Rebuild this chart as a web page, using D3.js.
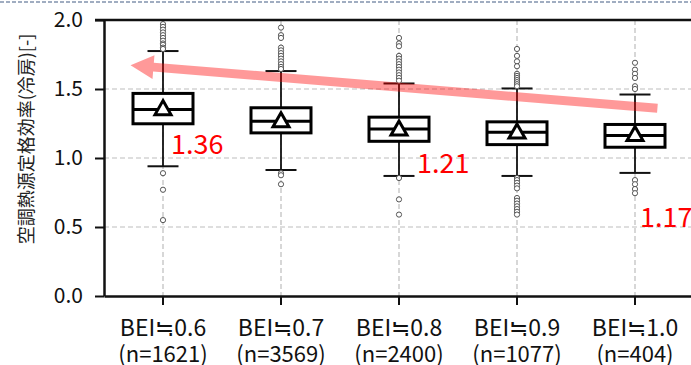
<!DOCTYPE html>
<html>
<head>
<meta charset="utf-8">
<script src="https://cdn.jsdelivr.net/npm/d3@7/dist/d3.min.js"></script>
<style>
  body { margin: 0; background: #fff; overflow: hidden; }
  svg { display: block; font-family: "Noto Sans CJK JP", "Noto Sans", sans-serif; }
</style>
</head>
<body>
<div id="graf"></div>
<script>
// categorias y tamaño de muestra
const categorias = ["BEI≒0.6", "BEI≒0.7", "BEI≒0.8", "BEI≒0.9", "BEI≒1.0"]
const muestras = ["(n=1621)", "(n=3569)", "(n=2400)", "(n=1077)", "(n=404)"]

// estadisticos de cada caja
const bigoteInf = [0.94, 0.913, 0.87, 0.87, 0.892]
const q1 = [1.248, 1.182, 1.121, 1.097, 1.078]
const mediana = [1.352, 1.267, 1.211, 1.187, 1.163]
const q3 = [1.468, 1.364, 1.296, 1.262, 1.243]
const bigoteSup = [1.775, 1.63, 1.54, 1.504, 1.46]
const promedio = [1.365, 1.277, 1.218, 1.195, 1.178]

// valores atipicos
const atipicos = [
  [1.97, 1.95, 1.93, 1.91, 1.89, 1.87, 1.85, 1.83, 1.82, 1.80, 1.79, 0.89, 0.77, 0.55],
  [1.945, 1.89, 1.87, 1.80, 1.78, 1.76, 1.74, 1.72, 1.70, 1.68, 1.66, 1.645, 0.89, 0.875, 0.81],
  [1.87, 1.83, 1.81, 1.74, 1.72, 1.70, 1.68, 1.66, 1.64, 1.62, 1.60, 1.58, 1.56, 0.855, 0.70, 0.59],
  [1.79, 1.74, 1.70, 1.665, 1.61, 1.595, 1.58, 1.565, 1.55, 1.535, 1.52,
   0.855, 0.84, 0.82, 0.80, 0.78, 0.71, 0.69, 0.67, 0.65, 0.63, 0.61, 0.59],
  [1.69, 1.64, 1.61, 1.58, 1.52, 1.50, 0.84, 0.81, 0.775, 0.745]
]

// etiquetas rojas del promedio
const etiquetas = ["1.36", null, "1.21", null, "1.17"]

// ticks del eje y
const yTicks = [0.0, 0.5, 1.0, 1.5, 2.0]

// flecha de tendencia (indice de categoria, valor)
const flechaDesde = [4.19, 1.36]
const flechaHasta = [-0.275, 1.672]

// Dimensiones
const anchoTotal = 691
const altoTotal = 365
const margins = { top: 20, left: 104 }
const ancho = 590
const alto = 276

const svg = d3.select("#graf")
  .append("svg")
  .attr("width", anchoTotal)
  .attr("height", altoTotal)

// linea punteada superior (borde de la diapositiva)
svg.append("line")
  .attr("x1", 0).attr("x2", anchoTotal)
  .attr("y1", 2).attr("y2", 2)
  .attr("stroke", "#8193ad")
  .attr("stroke-width", 1.5)
  .attr("stroke-dasharray", "4,2")

const g = svg.append("g")
  .attr("transform", `translate(${margins.left}, ${margins.top})`)

// Escaladores
const y = d3.scaleLinear().domain([0, 2]).range([alto, 0])
const x = d3.scaleBand().domain(categorias).range([0, ancho])
const xc = (i) => x(categorias[0]) + x.bandwidth() / 2 + i * x.step()

// rejilla
g.selectAll(".grid-h")
  .data(yTicks.filter(d => d > 0 && d < 2))
  .enter().append("line")
  .attr("x1", 0).attr("x2", ancho)
  .attr("y1", d => y(d)).attr("y2", d => y(d))
  .attr("stroke", "#bdbdbd").attr("stroke-width", 1.2)
  .attr("stroke-dasharray", "5,3")

g.selectAll(".grid-v")
  .data(categorias)
  .enter().append("line")
  .attr("x1", d => x(d) + x.bandwidth() / 2).attr("x2", d => x(d) + x.bandwidth() / 2)
  .attr("y1", 0).attr("y2", alto)
  .attr("stroke", "#bdbdbd").attr("stroke-width", 1.2)
  .attr("stroke-dasharray", "5,3")

// cajas
const anchoCaja = 60
const anchoTope = 31
categorias.forEach((c, i) => {
  const cx = xc(i)
  const caja = g.append("g")

  caja.append("line")
    .attr("x1", cx).attr("x2", cx)
    .attr("y1", y(bigoteInf[i])).attr("y2", y(bigoteSup[i]))
    .attr("stroke", "#111").attr("stroke-width", 1.8)

  ;[bigoteInf[i], bigoteSup[i]].forEach(v => {
    caja.append("line")
      .attr("x1", cx - anchoTope / 2).attr("x2", cx + anchoTope / 2)
      .attr("y1", y(v)).attr("y2", y(v))
      .attr("stroke", "#111").attr("stroke-width", 2)
  })

  caja.selectAll("circle")
    .data(atipicos[i])
    .enter().append("circle")
    .attr("cx", cx)
    .attr("cy", d => y(d))
    .attr("r", 2.6)
    .attr("fill", "#fff")
    .attr("stroke", "#555")
    .attr("stroke-width", 1)

  caja.append("rect")
    .attr("x", cx - anchoCaja / 2)
    .attr("y", y(q3[i]))
    .attr("width", anchoCaja)
    .attr("height", y(q1[i]) - y(q3[i]))
    .attr("fill", "#fff")
    .attr("stroke", "#000").attr("stroke-width", 3)

  caja.append("line")
    .attr("x1", cx - anchoCaja / 2).attr("x2", cx + anchoCaja / 2)
    .attr("y1", y(mediana[i])).attr("y2", y(mediana[i]))
    .attr("stroke", "#000").attr("stroke-width", 3)

  // triangulo del promedio
  const py = y(promedio[i])
  caja.append("path")
    .attr("d", `M${cx},${py - 7} L${cx - 8},${py + 7} L${cx + 8},${py + 7} Z`)
    .attr("fill", "#fff")
    .attr("stroke", "#000").attr("stroke-width", 3)
    .attr("stroke-linejoin", "miter")
})

// ejes
const yAxis = d3.axisLeft(y)
  .tickValues(yTicks)
  .tickFormat(d3.format(".1f"))
  .tickSize(9).tickSizeOuter(0).tickPadding(12)

const yAxisGroup = g.append("g").call(yAxis)
yAxisGroup.select(".domain").attr("stroke", "#111").attr("stroke-width", 2.5)
yAxisGroup.selectAll(".tick line").attr("stroke", "#111").attr("stroke-width", 2)
yAxisGroup.selectAll(".tick text")
  .attr("font-size", 21).attr("fill", "#111")
  .attr("font-family", '"Noto Sans CJK JP", "Noto Sans", sans-serif')

const xAxis = d3.axisBottom(x).tickSize(9).tickSizeOuter(0).tickFormat("")
const xAxisGroup = g.append("g")
  .attr("transform", `translate(0, ${alto})`)
  .call(xAxis)
xAxisGroup.select(".domain").attr("stroke", "#111").attr("stroke-width", 2.5)
xAxisGroup.selectAll(".tick line").attr("stroke", "#111").attr("stroke-width", 2)

// etiquetas del eje x en dos lineas
const etiquetasX = g.append("g").attr("transform", `translate(0, ${alto})`)
etiquetasX.selectAll(".cat")
  .data(categorias)
  .enter().append("text")
  .attr("x", d => x(d) + x.bandwidth() / 2)
  .attr("y", 40)
  .attr("text-anchor", "middle")
  .attr("font-size", 23)
  .attr("fill", "#111")
  .text(d => d)
etiquetasX.selectAll(".n")
  .data(muestras)
  .enter().append("text")
  .attr("x", (d, i) => xc(i))
  .attr("y", 66)
  .attr("text-anchor", "middle")
  .attr("font-size", 22)
  .attr("fill", "#111")
  .text(d => d)

// borde superior
g.append("line")
  .attr("x1", -9).attr("x2", ancho)
  .attr("y1", 0).attr("y2", 0)
  .attr("stroke", "#111").attr("stroke-width", 2.5)

// titulo eje y
svg.append("text")
  .attr("transform", "translate(25, 139) rotate(-90)")
  .attr("text-anchor", "middle")
  .attr("dominant-baseline", "central")
  .attr("font-size", 18)
  .attr("fill", "#222")
  .text("空調熱源定格効率(冷房)[-]")

// etiquetas rojas
const etiquetaPos = [[8, 1.032], null, [18, 0.894], null, [5, 0.5]]
etiquetas.forEach((e, i) => {
  if (!e) return
  g.append("text")
    .attr("x", xc(i) + etiquetaPos[i][0])
    .attr("y", y(etiquetaPos[i][1]))
    .attr("font-size", 27)
    .attr("fill", "#ff0000")
    .text(e)
})

// flecha
const p0 = [xc(flechaDesde[0]), y(flechaDesde[1])]
const p1 = [xc(flechaHasta[0]), y(flechaHasta[1])]
const dx = p1[0] - p0[0], dy = p1[1] - p0[1]
const len = Math.hypot(dx, dy)
const u = [dx / len, dy / len]
const n = [-u[1], u[0]]
const largoPunta = 23, mitadPunta = 12, mitadCuerpo = 4.5
const base = [p1[0] - u[0] * largoPunta, p1[1] - u[1] * largoPunta]
const pt = (p, k) => `${p[0] + n[0] * k},${p[1] + n[1] * k}`
g.append("path")
  .attr("d", `M${pt(p0, mitadCuerpo)} L${pt(base, mitadCuerpo)} L${pt(base, mitadPunta)} L${p1[0]},${p1[1]} L${pt(base, -mitadPunta)} L${pt(base, -mitadCuerpo)} L${pt(p0, -mitadCuerpo)} Z`)
  .attr("fill", "#ff0000")
  .attr("fill-opacity", 0.4)
</script>
</body>
</html>
